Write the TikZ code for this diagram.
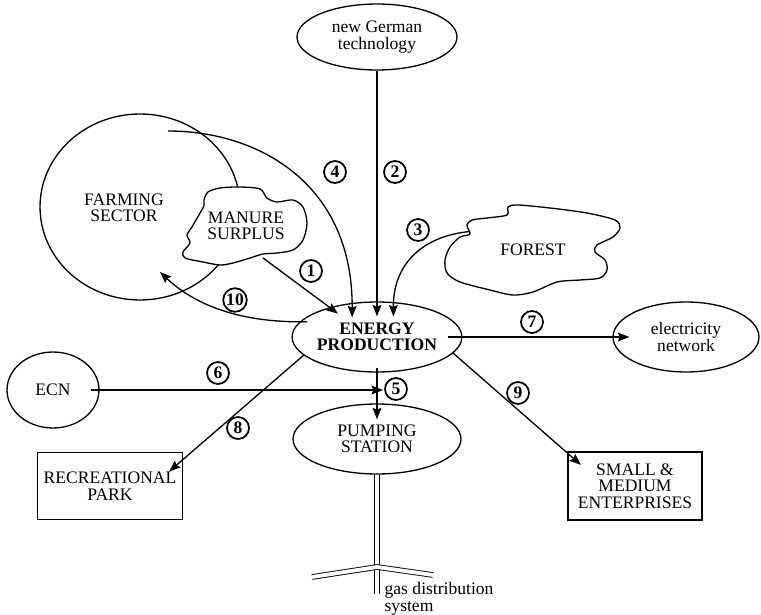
\documentclass[tikz,border=0pt]{standalone}
\usepackage{fontspec}
\setmainfont{Liberation Serif}
\usetikzlibrary{arrows.meta, shapes.geometric}

\begin{document}
\begin{tikzpicture}[x = 0.02cm, y = -0.02cm, line width = 0.75pt,
    txt/.style = {align = center, font = \fontsize{10}{9.4}\selectfont},
    oval/.style = {ellipse, draw, txt, inner sep = 0pt},
    box/.style = {rectangle, draw, txt, inner sep = 0pt},
    num/.style = {circle, draw, line width = 1pt, inner sep = 0.5pt, minimum size = 0.44cm,
      font = \bfseries\fontsize{10}{10}\selectfont},
    flow/.style = {-{Stealth[length = 6.5pt, width = 5pt, inset = 1pt]}},
    pipe/.style = {double, double distance = 2.2pt, line width = 0.5pt}]
  \useasboundingbox (0,0) rectangle (761,615);

  % farming sector and manure surplus
  \node[oval, minimum width = 4cm, minimum height = 3.72cm] (farming) at (140,207) {};
  \node[txt] (farmtext) at (124,208) {FARMING\\SECTOR};
  \filldraw[fill = white] plot[smooth cycle] coordinates {(204,200) (208,192) (220,188) (240,187)
    (260,189) (267,198) (277,202) (293,200) (303,207) (307,223) (303,240) (293,250) (277,253)
    (263,254) (250,258) (233,263) (220,265) (203,262) (185,258) (183,252) (190,243) (187,235)
    (192,227) (200,213) (204,206)};
  \node[txt, ellipse, minimum width = 2.5cm, minimum height = 1.3cm, inner sep = 0pt] (manure) at (246,226) {MANURE\\SURPLUS};

  % forest
  \filldraw[fill = white] plot[smooth cycle] coordinates {(470,233) (467,225) (472,220) (487,218)
    (507,215) (508,207) (518,205) (550,208) (587,213) (615,220) (620,228) (613,237) (597,245)
    (595,252) (605,260) (607,270) (600,278) (580,280) (557,282) (533,292) (513,295) (490,290)
    (460,282) (447,273) (445,260) (450,247) (460,237) (468,235)};
  \node[txt, ellipse, minimum width = 2.9cm, minimum height = 1.5cm, inner sep = 0pt] (forest) at (533,250) {FOREST};

  \node[oval, minimum width = 3.2cm, minimum height = 1.32cm] (german) at (377,37) {new German\\technology};
  \node[oval, minimum width = 3.2cm, minimum height = 1.4cm,
    font = \bfseries\fontsize{10}{9.4}\selectfont] (energy) at (377,337) {ENERGY\\PRODUCTION};
  \node[oval, minimum width = 2.92cm, minimum height = 1.4cm] (elec) at (686,337) {electricity\\network};
  \node[oval, minimum width = 1.84cm, minimum height = 1.52cm] (ecn) at (53,390) {ECN};
  \node[oval, minimum width = 3.36cm, minimum height = 1.4cm] (pump) at (377,439) {PUMPING\\STATION};
  \node[box, minimum width = 2.9cm, minimum height = 1.34cm] (park) at (110,486) {RECREATIONAL\\PARK};
  \node[box, minimum width = 2.68cm, minimum height = 1.36cm] (sme) at (635,486) {SMALL \&\\MEDIUM\\ENTERPRISES};

  \coordinate (farmtop) at (168,131);
  \coordinate (farmin) at (160,272);

  % flows
  \draw[flow, shorten >= -0.21cm] (manure.-62) -- (energy.148);
  \draw[flow, shorten >= -0.3cm] (german.south) -- (energy.north);
  \draw[flow, shorten >= -0.29cm] (forest.164) .. controls (425,236) and (393,262) .. (energy.65);
  \draw[flow, shorten >= -0.29cm] (farmtop) .. controls (260,131) and (353,185) .. (energy.126);
  \draw[flow, shorten <= -0.1cm, shorten >= -0.32cm] (energy.south) -- (pump.north);
  \draw[flow, shorten <= -0.18cm, shorten >= -0.12cm] (ecn.east) -- (ecn.east -| pump.north);
  \draw[flow, shorten <= -0.3cm, shorten >= -0.34cm] (energy.east) -- (elec.west);
  \draw[flow, shorten >= -0.37cm] (energy.194) -- (park.20);
  \draw[flow, shorten >= -0.36cm] (energy.-12) -- (sme.154);
  \draw[flow, shorten <= -0.16cm] (energy.169) .. controls (240,323) and (195,305) .. (farmin);

  \node[num] (n1) at (311,271) {1};
  \node[num] (n2) at (395,172) {2};
  \node[num] (n3) at (418,230) {3};
  \node[num] (n4) at (335,172) {4};
  \node[num] (n5) at (396,389) {5};
  \node[num] (n6) at (218,373) {6};
  \node[num] (n7) at (532,322) {7};
  \node[num] (n8) at (238,428) {8};
  \node[num] (n9) at (518,393) {9};
  \node[num] (n10) at (235,300) {10};

  % gas pipes
  \coordinate (joint) at (377,567);
  \coordinate (pipeend) at (377,594);
  \coordinate (pipeleft) at (312,577);
  \coordinate (piperight) at (433,575);
  \draw[pipe] (pump.south) -- (pipeend);
  \draw[pipe] (pipeleft) -- (joint) -- (piperight);
  \node[txt, align = left, anchor = north west, inner sep = 0pt] (gas) at (384,582) {gas distribution\\system};
\end{tikzpicture}
\end{document}
